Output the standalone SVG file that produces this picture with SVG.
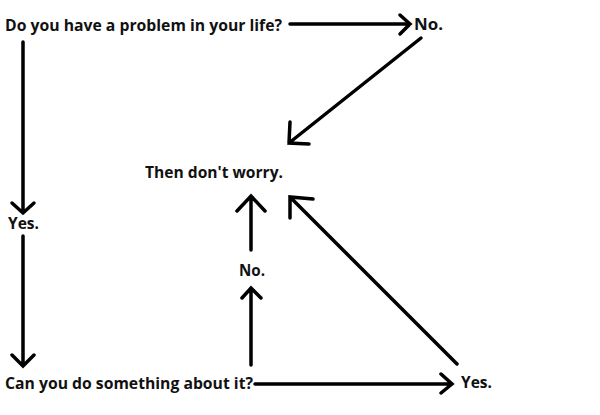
<svg xmlns="http://www.w3.org/2000/svg" width="600" height="415" viewBox="0 0 600 415">
<style>
.t{font-family:"Open Sans","Liberation Sans",sans-serif;font-weight:bold;font-size:15.5px;fill:#111}
.c{fill:none;stroke:#000;stroke-width:3.5;stroke-linecap:round;stroke-linejoin:miter}
</style>
<rect width="600" height="415" fill="#fff"/>
<g id="connectors">
<path class="c" d="M290,24 L410,24 M400,15 L410,24 L400,34"/>
<path class="c" d="M421,38 L289,143 M290,122 L289,143 L309,144"/>
<path class="c" d="M23,42 L23,213 M12,203 L23,213 L34,203"/>
<path class="c" d="M23,236 L23,366 M12,355 L23,366 L34,355"/>
<path class="c" d="M255,384 L452,384 M441,374 L452,384 L441,393"/>
<path class="c" d="M251,365 L251,288 M242,298 L251,288 L261,298"/>
<path class="c" d="M251,250 L251,196 M237,211 L251,196 L265,211"/>
<path class="c" d="M457,364 L290,197 M290,218 L290,197 L313,199"/>
</g>
<g id="q1"><text class="t" x="5" y="31" textLength="277" lengthAdjust="spacingAndGlyphs">Do you have a problem in your life?</text></g>
<g id="no1"><text class="t" x="414" y="30" textLength="29" lengthAdjust="spacingAndGlyphs">No.</text></g>
<g id="dontworry"><text class="t" x="145" y="178" textLength="138" lengthAdjust="spacingAndGlyphs">Then don't worry.</text></g>
<g id="yes1"><text class="t" x="8" y="229" textLength="31" lengthAdjust="spacingAndGlyphs">Yes.</text></g>
<g id="no2"><text class="t" x="239" y="276" textLength="26" lengthAdjust="spacingAndGlyphs">No.</text></g>
<g id="q2"><text class="t" x="5" y="389" textLength="248" lengthAdjust="spacingAndGlyphs">Can you do something about it?</text></g>
<g id="yes2"><text class="t" x="461" y="388" textLength="31" lengthAdjust="spacingAndGlyphs">Yes.</text></g>
</svg>
